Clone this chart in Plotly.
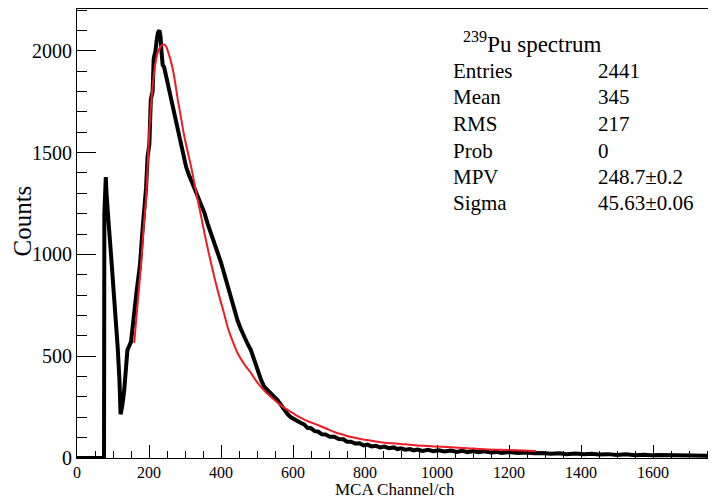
import plotly.graph_objects as go

# ---- data ----
hist_channel = [0, 75, 76, 78, 80, 82, 84, 88, 94, 100, 106, 113, 118, 121, 123, 126, 131, 136, 140, 145,
                150, 155, 159, 165, 170, 175, 182, 188, 192, 196, 201, 205, 210, 213, 218, 222, 225, 229,
                232, 235, 238, 242, 247, 252, 257, 261, 268, 275, 282, 289, 296, 303, 310, 317, 326, 335,
                344, 354, 363, 372, 381, 391, 400, 409, 418, 428, 437, 446, 456, 465, 474, 483, 492, 502,
                511, 520, 530, 539, 548, 557, 566, 576, 585, 594, 603, 613, 622, 631, 640, 650, 660, 669,
                680, 690, 702, 715, 727, 740, 750, 761, 773, 785, 796, 807, 818, 830, 842, 854, 866, 880,
                890, 900, 912, 925, 935, 946, 960, 975, 990, 1005, 1020, 1039, 1055, 1070, 1085, 1100, 1115,
                1131, 1150, 1165, 1180, 1200, 1224, 1245, 1270, 1290, 1317, 1340, 1360, 1385, 1409, 1430,
                1450, 1475, 1500, 1525, 1550, 1575, 1594, 1620, 1650, 1675, 1700, 1725, 1750, 1778]
hist_counts = [0, 0, 1200, 1260, 1380, 1300, 1220, 1150, 1010, 880, 740, 545, 380, 215, 230, 260, 330, 440, 530, 550,
               570, 650, 700, 810, 880, 950, 1120, 1240, 1330, 1480, 1540, 1760, 1800, 1960, 2000, 2060, 2090, 2100,
               2070, 1990, 1930, 1920, 1880, 1840, 1790, 1760, 1700, 1645, 1590, 1530, 1470, 1430, 1395, 1366, 1330, 1295,
               1250, 1204, 1150, 1105, 1055, 1005, 960, 905, 850, 785, 725, 675, 630, 590, 560, 530, 480, 430,
               385, 350, 330, 315, 300, 285, 262, 238, 215, 200, 190, 178, 172, 165, 148, 146, 132, 130,
               117, 116, 104, 104, 93, 92, 80, 80, 71, 72, 62, 66, 57, 60, 52, 56, 48, 52,
               44, 48, 41, 44, 37, 41, 35, 40, 33, 38, 32, 37, 30, 35, 29, 34, 28,
               33, 27, 30, 25, 29, 24, 27, 23, 25, 21, 23, 19, 22, 18, 21,
               17, 19, 15, 18, 14, 16, 13, 15, 13, 14, 12, 13, 11, 11]

fit_channel = [159, 165, 170, 178, 185, 192, 201, 210, 219, 226, 233, 238, 243, 248, 252, 259, 266, 273, 280,
               289, 298, 308, 317, 326, 335, 345, 354, 363, 372, 384, 395, 407, 419, 432, 446, 465, 483, 497,
               511, 525, 539, 557, 576, 600, 622, 645, 669, 692, 715, 738, 761, 784, 807, 830, 854, 877, 900,
               923, 946, 992, 1039, 1085, 1131, 1178, 1224, 1250, 1275]
fit_counts = [565, 690, 790, 955, 1130, 1280, 1610, 1825, 1950, 2000, 2022, 2030, 2030, 2020, 2000, 1960, 1910, 1840, 1760,
              1670, 1580, 1500, 1430, 1350, 1270, 1185, 1105, 1030, 960, 870, 795, 720, 640, 575, 516, 460, 418, 380,
              349, 322, 300, 272, 246, 220, 197, 178, 162, 145, 128, 115, 103, 95, 88, 81, 75, 72, 69,
              65, 62, 57, 53, 48, 43, 40, 38, 36, 34]

stats_title = "<sup>239</sup>Pu spectrum"
stats_labels = ["Entries", "Mean", "RMS", "Prob", "MPV", "Sigma"]
stats_values = ["2441", "345", "217", "0", "248.7\u00b10.2", "45.63\u00b10.06"]

x_title = "MCA Channel/ch"
y_title = "Counts"

# ---- geometry (page body has an 8px margin, so the figure is placed at 8,8) ----
OFF = 8
W, H = 716 - OFF, 502 - OFF
L, R, T, B = 77 - OFF, 0, 9 - OFF, 502 - 458
PW, PH = W - L - R, H - T - B
FONT = "Liberation Serif, Times New Roman, serif"


def px(xs):  # screen pixel -> paper
    return (xs - OFF - L) / PW


def py(ys):
    return (H - B - (ys - OFF)) / PH


fig = go.Figure()
fig.add_trace(go.Scatter(x=hist_channel, y=hist_counts, mode="lines",
                         line=dict(color="black", width=4), showlegend=False))
fig.add_trace(go.Scatter(x=fit_channel, y=fit_counts, mode="lines",
                         line=dict(color="rgb(238,28,37)", width=2, shape="spline"), showlegend=False))

ann = []
ann.append(dict(x=px(461), y=py(42), xref="paper", yref="paper", text=stats_title, showarrow=False,
                xanchor="left", yanchor="middle", font=dict(family=FONT, size=23, color="black")))
row_y = [71, 97, 124, 151, 177, 203]
for lab, val, yy in zip(stats_labels, stats_values, row_y):
    ann.append(dict(x=px(451), y=py(yy), xref="paper", yref="paper", text=lab, showarrow=False,
                    xanchor="left", yanchor="middle", font=dict(family=FONT, size=21, color="black")))
    ann.append(dict(x=px(596), y=py(yy), xref="paper", yref="paper", text=val, showarrow=False,
                    xanchor="left", yanchor="middle", font=dict(family=FONT, size=21, color="black")))
ann.append(dict(x=px(395), y=py(489), xref="paper", yref="paper", text=x_title, showarrow=False,
                xanchor="center", yanchor="middle", font=dict(family=FONT, size=17, color="black")))
ann.append(dict(x=px(21.5), y=py(221), xref="paper", yref="paper", text=y_title, showarrow=False,
                textangle=-90, xanchor="center", yanchor="middle",
                font=dict(family=FONT, size=25, color="black")))

fig.update_layout(
    width=W, height=H,
    margin=dict(l=L, r=R, t=T, b=B, pad=0),
    paper_bgcolor="white", plot_bgcolor="white",
    annotations=ann,
    xaxis=dict(range=[0, 1775], showgrid=False, zeroline=False, showline=True, linecolor="black",
               linewidth=1, mirror=True, ticks="inside", ticklen=13, tickcolor="black", tickwidth=1,
               dtick=200, tick0=0, tickfont=dict(family=FONT, size=16, color="black"),
               minor=dict(dtick=50, ticks="inside", ticklen=7, tickcolor="black", showgrid=False)),
    yaxis=dict(range=[0, 2205], showgrid=False, zeroline=False, showline=True, linecolor="black",
               linewidth=1, ticks="inside", ticklen=19, tickcolor="black", tickwidth=1,
               dtick=500, tick0=0, tickfont=dict(family=FONT, size=20, color="black"),
               minor=dict(dtick=100, ticks="inside", ticklen=10, tickcolor="black", showgrid=False)),
)

fig.write_html("out.html")
